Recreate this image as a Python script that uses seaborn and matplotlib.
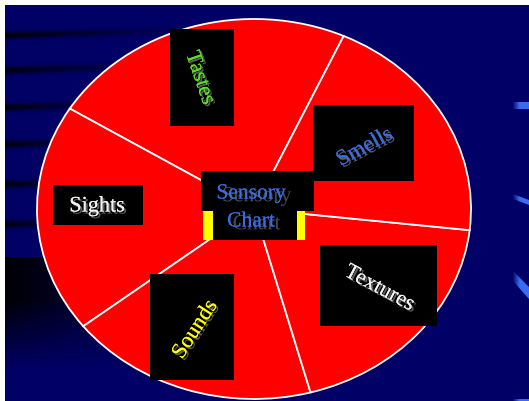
import numpy as np
import matplotlib
matplotlib.use('Agg')
import matplotlib.pyplot as plt
import matplotlib.patheffects as pe
from matplotlib.patches import Rectangle, Polygon
import seaborn as sns

# Slices of the sensory wheel, counter-clockwise starting at the top
senses = ['Tastes', 'Sights', 'Sounds', 'Textures', 'Smells']
shares = [82.5, 70.0, 67.0, 68.5, 72.0]
label_colors = ['#5fdc2a', '#f2f2f2', '#ffff00', '#f2f2f2', '#3b6be3']
title_lines = ['Sensory', 'Chart']

# Layout in slide pixels: black box (x0, y0, x1, y1), text centre, rotation
label_boxes = {
    'Tastes': ((170, 30, 234, 127), (199, 79), -71),
    'Sights': ((53, 186, 143, 226), (97, 208), 0),
    'Sounds': ((150, 275, 234, 381), (196, 331), 57),
    'Textures': ((320, 246, 437, 327), (379, 290), -28),
    'Smells': ((313, 106, 414, 182), (365, 149), 28),
}

W, H = 529, 402
NAVY = (0.0, 0.0, 0.40)

sns.set_theme(style='white')
plt.rcParams['font.family'] = ['Liberation Serif', 'DejaVu Serif']

fig = plt.figure(figsize=(W / 100, H / 100), dpi=100)
fig.patch.set_facecolor('white')

# Background: navy slide with dark streaks on the left
bg_ax = fig.add_axes([0, 0, 1, 1])
bg_ax.set_xlim(0, W)
bg_ax.set_ylim(H, 0)
bg_ax.axis('off')

yy, xx = np.mgrid[6:H, 5:W].astype(float)
dark = np.zeros_like(xx)
for yc, length in [(36, 190), (71, 150), (108, 125), (145, 105), (185, 95), (225, 85)]:
    band = np.exp(-((yy - (yc - 0.03 * (xx - 5))) / 3.5) ** 2)
    fade = np.clip(1 - (xx - 5) / length, 0, 1)
    dark = np.maximum(dark, band * fade * 0.9)
vert = np.where(yy < 258, 0, np.clip(1 - (yy - 300) / 70, 0, 1))
horiz = np.clip(1 - (xx - 5) / 140, 0, 1) ** 0.7
dark = np.maximum(dark, vert * horiz * 0.95)
img = np.ones(xx.shape + (3,)) * np.array(NAVY)
img *= (1 - dark)[..., None]
bg_ax.imshow(img, extent=(5, W, H, 6), aspect='auto', interpolation='bilinear', zorder=0)


def streak(x0, x1, top0, bot0, top1, bot1, steps=16):
    # light blue streak fading in from the navy on its left
    xs = np.linspace(x0, x1, steps + 1)
    for i in range(steps):
        a, b = xs[i], xs[i + 1]
        t0, t1 = (a - x0) / (x1 - x0), (b - x0) / (x1 - x0)
        poly = [(a, top0 + (top1 - top0) * t0), (b, top0 + (top1 - top0) * t1),
                (b, bot0 + (bot1 - bot0) * t1), (a, bot0 + (bot1 - bot0) * t0)]
        alpha = min(1.0, (i + 1) / (steps * 0.45))
        bg_ax.add_patch(Polygon(poly, closed=True, facecolor='#3a6cf0', edgecolor='none',
                                alpha=alpha, zorder=1))


streak(513, 529, 103, 110, 103, 110)
streak(513, 529, 195, 200, 201, 206)
streak(513, 529, 272, 282, 288, 300)
streak(513, 529, 400, 402, 400, 402)

# The wheel itself: a pie stretched into an ellipse
pie_ax = fig.add_axes([37 / W, 2 / H, 434 / W, 380 / H])
wedges, _ = pie_ax.pie(shares, startangle=65.6, counterclock=True,
                       colors=['#ff0000'] * len(shares),
                       wedgeprops=dict(edgecolor='white', linewidth=1.3))
for w in wedges:
    w.set_clip_on(False)
pie_ax.set_aspect('auto')
pie_ax.set_xlim(-1, 1)
pie_ax.set_ylim(-1, 1)
pie_ax.axis('off')

# Overlay with the black label cards and text
top = fig.add_axes([0, 0, 1, 1])
top.set_xlim(0, W)
top.set_ylim(H, 0)
top.axis('off')
top.patch.set_alpha(0)

shadow = [pe.withSimplePatchShadow(offset=(1.5, -1.5), shadow_rgbFace='#666666', alpha=0.9),
          pe.Normal()]
for name, color in zip(senses, label_colors):
    (x0, y0, x1, y1), (tx, ty), rot = label_boxes[name]
    top.add_patch(Rectangle((x0, y0), x1 - x0, y1 - y0, facecolor='black', edgecolor='none'))
    top.text(tx, ty, name, color=color, fontsize=16, rotation=rot,
             rotation_mode='anchor', ha='center', va='center', path_effects=shadow)

# centre hub
top.add_patch(Rectangle((201, 172), 113, 40, facecolor='black', edgecolor='none'))
top.add_patch(Rectangle((212, 211), 86, 30, facecolor='black', edgecolor='none'))
top.add_patch(Rectangle((203, 212), 10, 29, facecolor='#ffff00', edgecolor='none'))
top.add_patch(Rectangle((297, 212), 8, 29, facecolor='#ffff00', edgecolor='none'))
hub_shadow = [pe.withSimplePatchShadow(offset=(4, -2), shadow_rgbFace='#4a4a4a', alpha=1.0),
              pe.Normal()]
for line, ty in zip(title_lines, [195, 223]):
    top.text(251, ty, line, color='#3b6be3', fontsize=15.5, ha='center', va='center',
             path_effects=hub_shadow)

fig.savefig('out.png', dpi=100, facecolor='white')
